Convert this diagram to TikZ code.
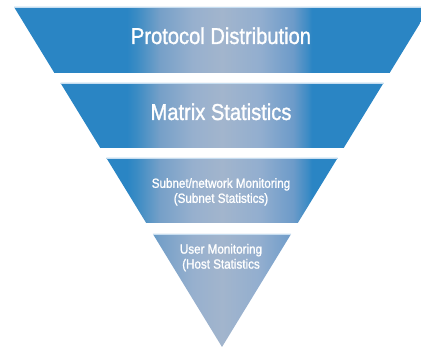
\documentclass[tikz,border=0pt]{standalone}
\usepackage{fontspec}
\setmainfont{Liberation Sans}[FakeStretch=0.875,FakeBold=1.2]
\definecolor{fblue}{HTML}{2A85C4}
\definecolor{fbA}{HTML}{3C8CC4}
\definecolor{fbB}{HTML}{76A0C8}
\definecolor{fbC}{HTML}{97B0CE}
\definecolor{fbD}{HTML}{A2B5CD}
\definecolor{fbE}{HTML}{92AECF}
\definecolor{fbF}{HTML}{6D9BC9}
\definecolor{fbG}{HTML}{3F8CC5}
\definecolor{fedge}{HTML}{C6DDF0}
\pgfdeclarehorizontalshading{funnelshade}{100bp}{color(0bp)=(fblue); color(40.08bp)=(fblue); color(41.27bp)=(fbA); color(44bp)=(fbB); color(47.92bp)=(fbC); color(51.37bp)=(fbD); color(55.88bp)=(fbE); color(59.8bp)=(fbF); color(61.46bp)=(fbG); color(62.05bp)=(fblue); color(100bp)=(fblue)}
\tikzset{
  edge/.style={draw=fedge, line width=0.8pt},
  lbl/.style={text=white, inner sep=0pt, align=center},
  bigtext/.style={font=\fontsize{23}{27}\selectfont},
  smalltext/.style={font=\fontsize{13.3}{15}\selectfont}
}
\begin{document}
\begin{tikzpicture}[x=1pt,y=-1pt]
\useasboundingbox (0,0) rectangle (421,347);
\clip (0,0) rectangle (421,347);
% band 1
\begin{scope}
\clip (14,7) -- (430,7) -- (389.6,73) -- (54.4,73) -- cycle;
\shade[shading=funnelshade] (0,0) rectangle (421,347);
\end{scope}
\draw[edge] (14,7.4) -- (430,7.4);
% band 2
\begin{scope}
\clip (60.5,83) -- (383.5,83) -- (343.7,148) -- (100.3,148) -- cycle;
\shade[shading=funnelshade] (0,0) rectangle (421,347);
\end{scope}
\draw[edge] (60.8,83.4) -- (383.2,83.4);
% band 3
\begin{scope}
\clip (106.4,158) -- (337.6,158) -- (297.8,223) -- (146.2,223) -- cycle;
\shade[shading=funnelshade] (0,0) rectangle (421,347);
\end{scope}
\draw[edge] (106.7,158.4) -- (337.3,158.4);
% band 4
\begin{scope}
\clip (152.9,234) -- (291.1,234) -- (222,347) -- cycle;
\shade[shading=funnelshade] (0,0) rectangle (421,347);
\end{scope}
\draw[edge] (153.2,234.4) -- (290.8,234.4);
% labels
\node[lbl, bigtext, anchor=base] (proto) at (221,44) {Protocol Distribution};
\node[lbl, bigtext, anchor=base] (matrix) at (221,120) {Matrix Statistics};
\node[lbl, smalltext, anchor=north] (subnet) at (221,178) {Subnet/network Monitoring\\(Subnet Statistics)};
\node[lbl, smalltext, anchor=north] (user) at (221,243.8) {User Monitoring\\(Host Statistics};
\end{tikzpicture}
\end{document}
